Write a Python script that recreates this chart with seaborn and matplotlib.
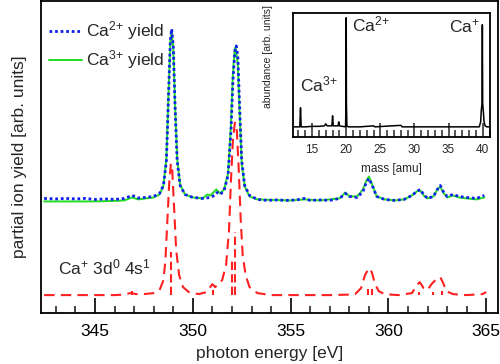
import numpy as np
import seaborn as sns
import matplotlib.pyplot as plt
from matplotlib.ticker import MultipleLocator

# partial ion yields (arb. units)
e_ca2 = [342.4, 343.0, 343.5, 344.0, 344.5, 345.0, 345.5, 346.0, 346.5, 346.9, 347.2,
         347.6, 348.0, 348.3, 348.5, 348.65, 348.75, 348.85, 348.92, 349.0, 349.1,
         349.2, 349.35, 349.6, 350.0, 350.5, 350.9, 351.1, 351.25, 351.4, 351.6,
         351.8, 351.95, 352.05, 352.15, 352.22, 352.3, 352.4, 352.5, 352.65, 352.9,
         353.3, 353.8, 354.3, 354.8, 355.3, 355.7, 356.0, 356.5, 357.0, 357.5,
         357.8, 358.0, 358.4, 358.7, 358.85, 359.0, 359.15, 359.4, 359.8, 360.3,
         360.8, 361.2, 361.45, 361.62, 361.8, 362.0, 362.3, 362.5, 362.65, 362.8,
         363.0, 363.3, 363.6, 364.0, 364.5, 364.9]
y_ca2 = [1.15, 1.145, 1.15, 1.145, 1.15, 1.14, 1.145, 1.14, 1.15, 1.18, 1.155,
         1.16, 1.17, 1.20, 1.28, 1.53, 2.13, 2.73, 2.85, 2.68, 2.03,
         1.53, 1.28, 1.19, 1.16, 1.15, 1.16, 1.18, 1.21, 1.19, 1.23,
         1.38, 1.83, 2.33, 2.63, 2.68, 2.58, 2.03, 1.53, 1.28, 1.18,
         1.14, 1.13, 1.135, 1.13, 1.135, 1.15, 1.13, 1.135, 1.13, 1.15,
         1.20, 1.17, 1.16, 1.22, 1.30, 1.35, 1.29, 1.17, 1.14, 1.13,
         1.14, 1.18, 1.22, 1.24, 1.19, 1.15, 1.17, 1.24, 1.28, 1.22,
         1.17, 1.19, 1.17, 1.16, 1.15, 1.18]

e_ca3 = [342.4, 343.0, 344.0, 345.0, 346.0, 346.5, 346.9, 347.2, 347.6, 348.0, 348.3,
         348.5, 348.65, 348.75, 348.85, 348.92, 349.0, 349.1, 349.2, 349.35, 349.6,
         350.0, 350.5, 350.75, 350.9, 351.2, 351.4, 351.6, 351.8, 351.95, 352.05,
         352.15, 352.2, 352.3, 352.4, 352.5, 352.65, 352.9, 353.3, 354.0, 355.0,
         355.7, 356.5, 357.5, 357.8, 358.0, 358.4, 358.7, 358.85, 359.0, 359.15,
         359.4, 359.8, 360.3, 360.8, 361.2, 361.45, 361.62, 361.8, 362.0, 362.3,
         362.5, 362.65, 362.8, 363.0, 363.3, 363.6, 364.0, 364.5, 364.9]
y_ca3 = [1.12, 1.12, 1.12, 1.12, 1.125, 1.13, 1.16, 1.14, 1.15, 1.16, 1.19,
         1.28, 1.55, 2.15, 2.72, 2.83, 2.66, 2.05, 1.55, 1.29, 1.19,
         1.16, 1.15, 1.19, 1.18, 1.24, 1.20, 1.24, 1.40, 1.88, 2.40,
         2.66, 2.65, 2.50, 1.98, 1.50, 1.27, 1.17, 1.14, 1.135, 1.13,
         1.14, 1.13, 1.15, 1.21, 1.17, 1.17, 1.24, 1.32, 1.37, 1.30,
         1.17, 1.14, 1.13, 1.14, 1.18, 1.22, 1.23, 1.18, 1.15, 1.17,
         1.24, 1.27, 1.21, 1.16, 1.18, 1.16, 1.15, 1.14, 1.16]

# calculated Ca+ 3d0 4s1 spectrum
e_calc = [342.4, 343.0, 344.0, 345.0, 346.0, 346.5, 346.8, 347.1, 347.5, 348.0, 348.3,
          348.5, 348.6, 348.7, 348.8, 348.88, 348.95, 349.05, 349.15, 349.3, 349.5,
          349.8, 350.3, 350.7, 351.0, 351.15, 351.3, 351.5, 351.7, 351.85, 351.95,
          352.05, 352.15, 352.25, 352.35, 352.45, 352.55, 352.7, 352.9, 353.3, 354.0,
          355.0, 356.0, 357.0, 358.0, 358.3, 358.6, 358.8, 359.0, 359.15, 359.3,
          359.5, 359.8, 360.5, 361.2, 361.45, 361.6, 361.8, 362.0, 362.2, 362.4,
          362.65, 362.8, 362.95, 363.3, 364.0, 364.8, 365.0]
y_calc = [0.18, 0.18, 0.18, 0.18, 0.18, 0.185, 0.20, 0.19, 0.19, 0.20, 0.23,
          0.33, 0.53, 0.93, 1.33, 1.50, 1.43, 1.03, 0.63, 0.38, 0.26,
          0.21, 0.19, 0.21, 0.29, 0.26, 0.30, 0.33, 0.48, 0.83, 1.33,
          1.73, 1.91, 1.83, 1.43, 0.93, 0.58, 0.38, 0.26, 0.20, 0.18,
          0.18, 0.18, 0.18, 0.185, 0.19, 0.25, 0.38, 0.45, 0.41, 0.30,
          0.22, 0.19, 0.18, 0.20, 0.28, 0.31, 0.25, 0.23, 0.29, 0.33,
          0.36, 0.30, 0.22, 0.19, 0.18, 0.19, 0.21]
calc_base = 0.18

# line strengths (sticks)
e_stick = [346.9, 348.9, 351.03, 352.02, 352.18, 358.95, 359.15, 361.56, 362.28, 362.72]
y_stick = [0.22, 0.61, 0.23, 0.55, 0.81, 0.24, 0.24, 0.21, 0.21, 0.22]

# mass spectrum (inset)
mass = [11.8, 12.8, 13.2, 13.3, 13.4, 14.0, 15.0, 16.0, 16.8, 17.0, 17.2, 17.9, 18.0,
        18.1, 18.8, 18.9, 19.0, 19.9, 19.98, 20.0, 20.03, 20.1, 20.3, 22.0, 24.0,
        24.2, 28.0, 28.2, 30.0, 35.0, 39.5, 39.7, 39.8, 39.9, 39.95, 40.0, 40.1,
        40.2, 40.35, 40.6, 41.0]
abundance = [10, 10, 10, 29, 10, 10, 10.5, 10.5, 11, 13, 11, 11, 21,
             11, 11, 15, 11, 10, 34, 119, 34, 11, 10, 10, 11,
             10, 11.5, 10, 10, 10, 10, 15, 27, 33, 112, 33, 25,
             15, 11, 10, 10]

sns.set_style('ticks')
plt.rcParams['font.family'] = ['Liberation Sans', 'DejaVu Sans']
plt.rcParams['mathtext.fontset'] = 'custom'
plt.rcParams['mathtext.rm'] = 'Liberation Sans'
plt.rcParams['mathtext.it'] = 'Liberation Sans:italic'
plt.rcParams['font.size'] = 12.5
plt.rcParams['axes.linewidth'] = 1.3
plt.rcParams['axes.edgecolor'] = 'black'

fig = plt.figure(figsize=(5, 3.64), dpi=100)
ax = fig.add_axes([0.082, 0.140, 0.914, 0.857])

sns.lineplot(x=e_ca3, y=y_ca3, ax=ax, color='#22dd22', lw=1.4,
             label='Ca$^{\\mathrm{3{+}}}$ yield', zorder=2)
sns.lineplot(x=e_ca2, y=y_ca2, ax=ax, color='#1020ee', lw=2.0, ls=(0, (1, 1)),
             label='Ca$^{\\mathrm{2{+}}}$ yield', zorder=3)
sns.lineplot(x=e_calc, y=y_calc, ax=ax, color='#ff2020', lw=1.5, ls=(0, (5, 3)),
             zorder=2, legend=False)
ax.vlines(e_stick, calc_base, y_stick, colors='#ff2020', lw=1.5,
          linestyles=(0, (4, 2)), zorder=2)

ax.set_xlim(342.24, 365.6)
ax.set_ylim(0, 3.13)
ax.set_yticks([])
ax.xaxis.set_major_locator(MultipleLocator(5))
ax.xaxis.set_minor_locator(MultipleLocator(1))
ax.tick_params(axis='x', which='major', direction='in', length=11, width=1.2, pad=8,
               labelsize=12.5, colors='black')
ax.tick_params(axis='x', which='minor', direction='in', length=5, width=1.2)
ax.set_xlabel('photon energy [eV]', fontsize=12.5, labelpad=5)
ax.set_ylabel('partial ion yield [arb. units]', fontsize=12.5, labelpad=10)

handles, labels = ax.get_legend_handles_labels()
ax.legend(handles[::-1], labels[::-1], loc='upper left', frameon=False,
          bbox_to_anchor=(-0.005, 0.975), handlelength=1.9, handletextpad=0.2,
          labelspacing=0.35, borderaxespad=0.2, fontsize=12.5)

ax.text(343.1, 0.46, 'Ca$^{\\mathrm{{+}}}$ 3d$^{\\mathrm{0}}$ 4s$^{\\mathrm{1}}$',
        fontsize=12.5, va='center', ha='left')

# inset: time-of-flight mass spectrum
ins = fig.add_axes([0.586, 0.624, 0.394, 0.341])
sns.lineplot(x=mass, y=abundance, ax=ins, color='black', lw=1.1)
ins.set_xlim(12.2, 41.07)
ins.set_ylim(0, 124)
ins.set_yticks([])
ins.xaxis.set_major_locator(MultipleLocator(5))
ins.xaxis.set_minor_locator(MultipleLocator(1))
ins.tick_params(axis='x', which='major', direction='in', length=10, width=1.1, pad=5,
                labelsize=8.5)
ins.tick_params(axis='x', which='minor', direction='in', length=5, width=1.1)
ins.set_xlabel('mass [amu]', fontsize=8.5, labelpad=5)
ins.set_ylabel('abundance [arb. units]', fontsize=7.5)
ins.yaxis.set_label_coords(-0.10, 0.65)
ins.text(13.2, 52, 'Ca$^{\\mathrm{3{+}}}$', fontsize=12.5, va='center', ha='left')
ins.text(20.8, 112, 'Ca$^{\\mathrm{2{+}}}$', fontsize=12.5, va='center', ha='left')
ins.text(39.6, 110, 'Ca$^{\\mathrm{{+}}}$', fontsize=12.5, va='center', ha='right')

fig.savefig('out.png', dpi=100)
